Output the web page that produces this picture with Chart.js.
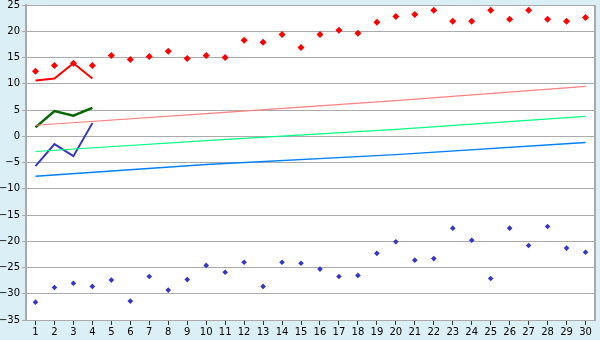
<!DOCTYPE html>
<html>
<head>
<meta charset="utf-8">
<script src="https://cdn.jsdelivr.net/npm/chart.js@4"></script>
<style>
html,body{margin:0;padding:0;background:#dbeff6;}
#wrap{width:600px;height:340px;}
</style>
</head>
<body>
<div id="wrap"><canvas id="c" width="600" height="340"></canvas></div>
<script>
const categories = ['1','2','3','4','5','6','7','8','9','10','11','12','13','14','15','16','17','18','19','20','21','22','23','24','25','26','27','28','29','30'];

const redPoints = [12.4,13.5,13.9,13.5,15.4,14.6,15.2,16.2,14.8,15.4,15.0,18.3,17.9,19.4,16.9,19.4,20.2,19.6,21.7,22.8,23.2,24.0,21.9,21.9,24.0,22.3,24.0,22.3,21.9,22.6];
const bluePoints = [-31.6,-28.8,-28.0,-28.6,-27.4,-31.4,-26.7,-29.3,-27.3,-24.6,-25.9,-24.0,-28.6,-24.0,-24.2,-25.3,-26.7,-26.5,-22.3,-20.1,-23.6,-23.3,-17.5,-19.8,-27.1,-17.5,-20.8,-17.2,-21.3,-22.1];

const redLine = [10.6,11.0,13.9,11.0];
const greenLine = [1.7,4.8,3.9,5.4];
const blueLine = [-5.7,-1.5,-3.8,2.5];

// trend lines read at categories 1, 10, 20, 30
const trendAt = {1:0, 10:1, 20:2, 30:3};
const pinkTrend = [2.1,4.3,6.8,9.5];
const greenTrend = [-2.9,-0.85,1.3,3.8];
const blueTrend = [-7.6,-5.4,-3.5,-1.2];

const yMin = -35, yMax = 25, yStep = 5;

function sparse(vals){
  return categories.map((c,i)=>{
    const k = trendAt[i+1];
    return k===undefined ? null : vals[k];
  });
}
function pad(vals){
  return categories.map((c,i)=> i<vals.length ? vals[i] : null);
}

const plotBg = {
  id:'plotBg',
  beforeDraw(chart){
    const {ctx, chartArea:a} = chart;
    ctx.save();
    ctx.fillStyle = '#ffffff';
    ctx.fillRect(a.left, a.top, a.right-a.left, a.bottom-a.top);
    ctx.restore();
  },
  afterDatasetsDraw(chart){
    const {ctx, chartArea:a} = chart;
    ctx.save();
    ctx.strokeStyle = '#aaaaaa';
    ctx.lineWidth = 2;
    ctx.beginPath();
    ctx.moveTo(Math.round(a.right)+0.0, a.top);
    ctx.lineTo(Math.round(a.right)+0.0, a.bottom);
    ctx.stroke();
    ctx.restore();
  }
};

const font = {family:'"DejaVu Sans", Verdana, sans-serif', size:10};

new Chart(document.getElementById('c'), {
  type:'line',
  data:{
    labels: categories,
    datasets:[
      {data: sparse(pinkTrend), borderColor:'#ff8080', borderWidth:1.2, pointRadius:0, spanGaps:true, tension:0},
      {data: sparse(greenTrend), borderColor:'#00ff80', borderWidth:1.2, pointRadius:0, spanGaps:true, tension:0},
      {data: sparse(blueTrend), borderColor:'#0080ff', borderWidth:1.5, pointRadius:0, spanGaps:true, tension:0},
      {data: pad(redLine), borderColor:'#ff0000', borderWidth:2, pointRadius:0, spanGaps:false},
      {data: pad(greenLine), borderColor:'#006600', borderWidth:2.5, pointRadius:0, spanGaps:false},
      {data: pad(blueLine), borderColor:'#3535c8', borderWidth:2, pointRadius:0, spanGaps:false},
      {data: redPoints, showLine:false, pointStyle:'rectRot', pointRadius:3.5, backgroundColor:'#ff0000', borderColor:'#ff0000', borderWidth:0},
      {data: bluePoints, showLine:false, pointStyle:'rectRot', pointRadius:2.8, backgroundColor:'#3535c8', borderColor:'#3535c8', borderWidth:0}
    ]
  },
  options:{
    responsive:false,
    animation:false,
    events:[],
    layout:{padding:{top:5,right:5,left:0,bottom:0}},
    plugins:{legend:{display:false}, tooltip:{enabled:false}},
    scales:{
      x:{
        offset:true,
        grid:{display:true, drawOnChartArea:false, offset:false, tickLength:5, color:'#333333', lineWidth:1},
        border:{display:true, color:'#aaaaaa', width:1},
        ticks:{color:'#000', font:font, padding:1, maxRotation:0, autoSkip:false},
        afterFit(s){ s.height = 20; }
      },
      y:{
        min:yMin, max:yMax,
        grid:{color:'#aaaaaa', lineWidth:1, tickLength:4, drawTicks:true},
        border:{display:true, color:'#aaaaaa', width:2},
        ticks:{stepSize:yStep, color:'#000', font:font, padding:2,
          callback:(v)=> String(v).replace('-', '\u2212')},
        afterFit(s){ s.width = 26; s.paddingTop = 0; s.paddingBottom = 0; }
      }
    }
  },
  plugins:[plotBg]
});
</script>
</body>
</html>
